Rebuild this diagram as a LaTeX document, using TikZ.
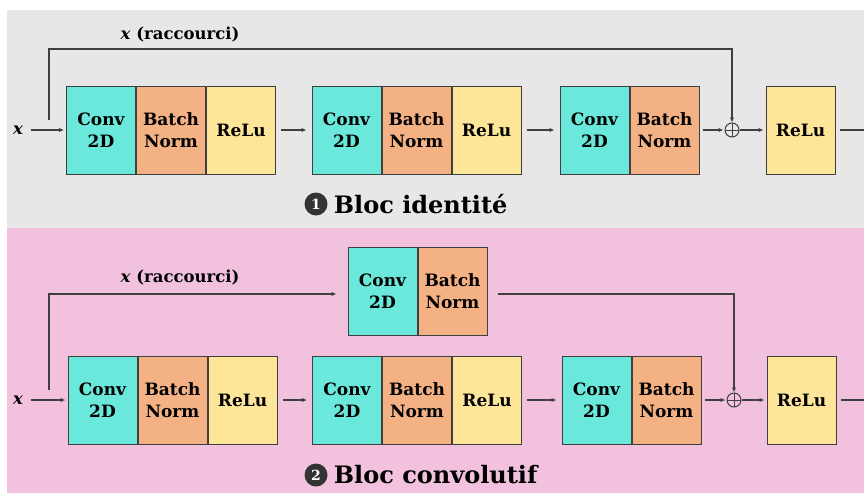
\documentclass[tikz,border=0pt]{standalone}
\usepackage{fontspec}
\setmainfont{DejaVu Serif}
\usepackage{tikz}
\usetikzlibrary{positioning,arrows.meta,calc}
\usepackage{xcolor}
\definecolor{convCol}{HTML}{6AE8DB}
\definecolor{normCol}{HTML}{F3B184}
\definecolor{reluCol}{HTML}{FDE699}
\definecolor{bgGray}{HTML}{E7E7E7}
\definecolor{bgPink}{HTML}{F2C1DE}
\definecolor{edgeCol}{HTML}{3F3F3F}

\begin{document}
\begin{tikzpicture}[
    x=1pt, y=-1pt,
    cellPart/.style={draw=edgeCol, line width=1pt, minimum width=69pt, minimum height=88pt, inner sep=0pt, font=\fontsize{17}{22}\selectfont\bfseries, align=center},
    convPart/.style={cellPart, fill=convCol},
    normPart/.style={cellPart, fill=normCol},
    reluPart/.style={cellPart, fill=reluCol},
    sumNode/.style={circle, draw=edgeCol, line width=1pt, minimum size=14pt, inner sep=0pt,
        path picture={\draw[edgeCol, line width=1pt] (path picture bounding box.north) -- (path picture bounding box.south) (path picture bounding box.west) -- (path picture bounding box.east);}},
    numBadge/.style={circle, fill=black!80, text=white, minimum size=23pt, inner sep=0pt, font=\fontsize{14}{14}\selectfont\bfseries},
    titleText/.style={anchor=west, inner sep=0pt, font=\fontsize{24}{24}\selectfont\bfseries},
    shortLabel/.style={font=\fontsize{16.5}{18}\selectfont\bfseries},
    lineStyle/.style={line width=1.2pt, draw=edgeCol},
    arrowStyle/.style={lineStyle, -{Latex[length=5pt,width=4.5pt]}}
]
    \useasboundingbox (0,0) rectangle (864,493);
    \fill[white] (0,0) rectangle (864,493);
    \fill[bgGray] (7,10) rectangle (864,228);
    \fill[bgPink] (7,228) rectangle (864,493);

    % bloc identite
    \node[shortLabel] (xinA) at (18,130) {\textit{x}};
    \node[convPart] (convA1) at (101,130) {Conv\\2D};
    \node[normPart, right=0pt of convA1] (normA1) {Batch\\Norm};
    \node[reluPart, right=0pt of normA1] (reluA1) {ReLu};
    \node[convPart] (convA2) at (346.5,130) {Conv\\2D};
    \node[normPart, right=0pt of convA2] (normA2) {Batch\\Norm};
    \node[reluPart, right=0pt of normA2] (reluA2) {ReLu};
    \node[convPart] (convA3) at (594.5,130) {Conv\\2D};
    \node[normPart, right=0pt of convA3] (normA3) {Batch\\Norm};
    \node[sumNode] (sumA) at (732,130) {};
    \node[reluPart] (reluA3) at (800.5,130) {ReLu};
    \coordinate (outA) at (864,130);

    \draw[arrowStyle, shorten <=4pt, shorten >=2pt] (xinA) -- (convA1);
    \draw[arrowStyle, shorten <=5pt, shorten >=5pt] (reluA1) -- (convA2);
    \draw[arrowStyle, shorten <=5pt, shorten >=5pt] (reluA2) -- (convA3);
    \draw[arrowStyle, shorten <=3pt, shorten >=1pt] (normA3) -- (sumA);
    \draw[arrowStyle, shorten >=2pt] (sumA) -- (reluA3);
    \draw[lineStyle, shorten <=4pt] (reluA3) -- (outA);

    \coordinate (splitA) at (49,120);
    \coordinate (bendA) at (49,49);
    \draw[arrowStyle] (splitA) -- (bendA) -| (sumA.north);
    \node[shortLabel] (labA) at (180,35) {\textit{x} (raccourci)};

    \node[numBadge] (badgeA) at (316,204) {1};
    \node[titleText, right=6pt of badgeA] (titleA) {Bloc identité};

    % bloc convolutif
    \node[shortLabel] (xinB) at (18,400) {\textit{x}};
    \node[convPart] (convB1) at (102.5,400) {Conv\\2D};
    \node[normPart, right=0pt of convB1] (normB1) {Batch\\Norm};
    \node[reluPart, right=0pt of normB1] (reluB1) {ReLu};
    \node[convPart] (convB2) at (347,400) {Conv\\2D};
    \node[normPart, right=0pt of convB2] (normB2) {Batch\\Norm};
    \node[reluPart, right=0pt of normB2] (reluB2) {ReLu};
    \node[convPart] (convB3) at (596.5,400) {Conv\\2D};
    \node[normPart, right=0pt of convB3] (normB3) {Batch\\Norm};
    \node[sumNode] (sumB) at (734,400) {};
    \node[reluPart] (reluB3) at (801.5,400) {ReLu};
    \coordinate (outB) at (864,400);

    \node[convPart] (convS) at (382.5,291) {Conv\\2D};
    \node[normPart, right=0pt of convS] (normS) {Batch\\Norm};

    \draw[arrowStyle, shorten <=4pt, shorten >=2pt] (xinB) -- (convB1);
    \draw[arrowStyle, shorten <=5pt, shorten >=5pt] (reluB1) -- (convB2);
    \draw[arrowStyle, shorten <=5pt, shorten >=5pt] (reluB2) -- (convB3);
    \draw[arrowStyle, shorten <=3pt, shorten >=1pt] (normB3) -- (sumB);
    \draw[arrowStyle, shorten >=2pt] (sumB) -- (reluB3);
    \draw[lineStyle, shorten <=4pt] (reluB3) -- (outB);

    \coordinate (splitB) at (49,390);
    \coordinate (bendB) at (49,294);
    \draw[arrowStyle, shorten >=11pt] (splitB) -- (bendB) -- (bendB -| convS.west);
    \coordinate (fromS) at ($(normS.east)+(10,3)$);
    \draw[arrowStyle] (fromS) -| (sumB.north);
    \node[shortLabel] (labB) at (180,278) {\textit{x} (raccourci)};

    \node[numBadge] (badgeB) at (316,475) {2};
    \node[titleText, right=6pt of badgeB] (titleB) {Bloc convolutif};
\end{tikzpicture}
\end{document}
